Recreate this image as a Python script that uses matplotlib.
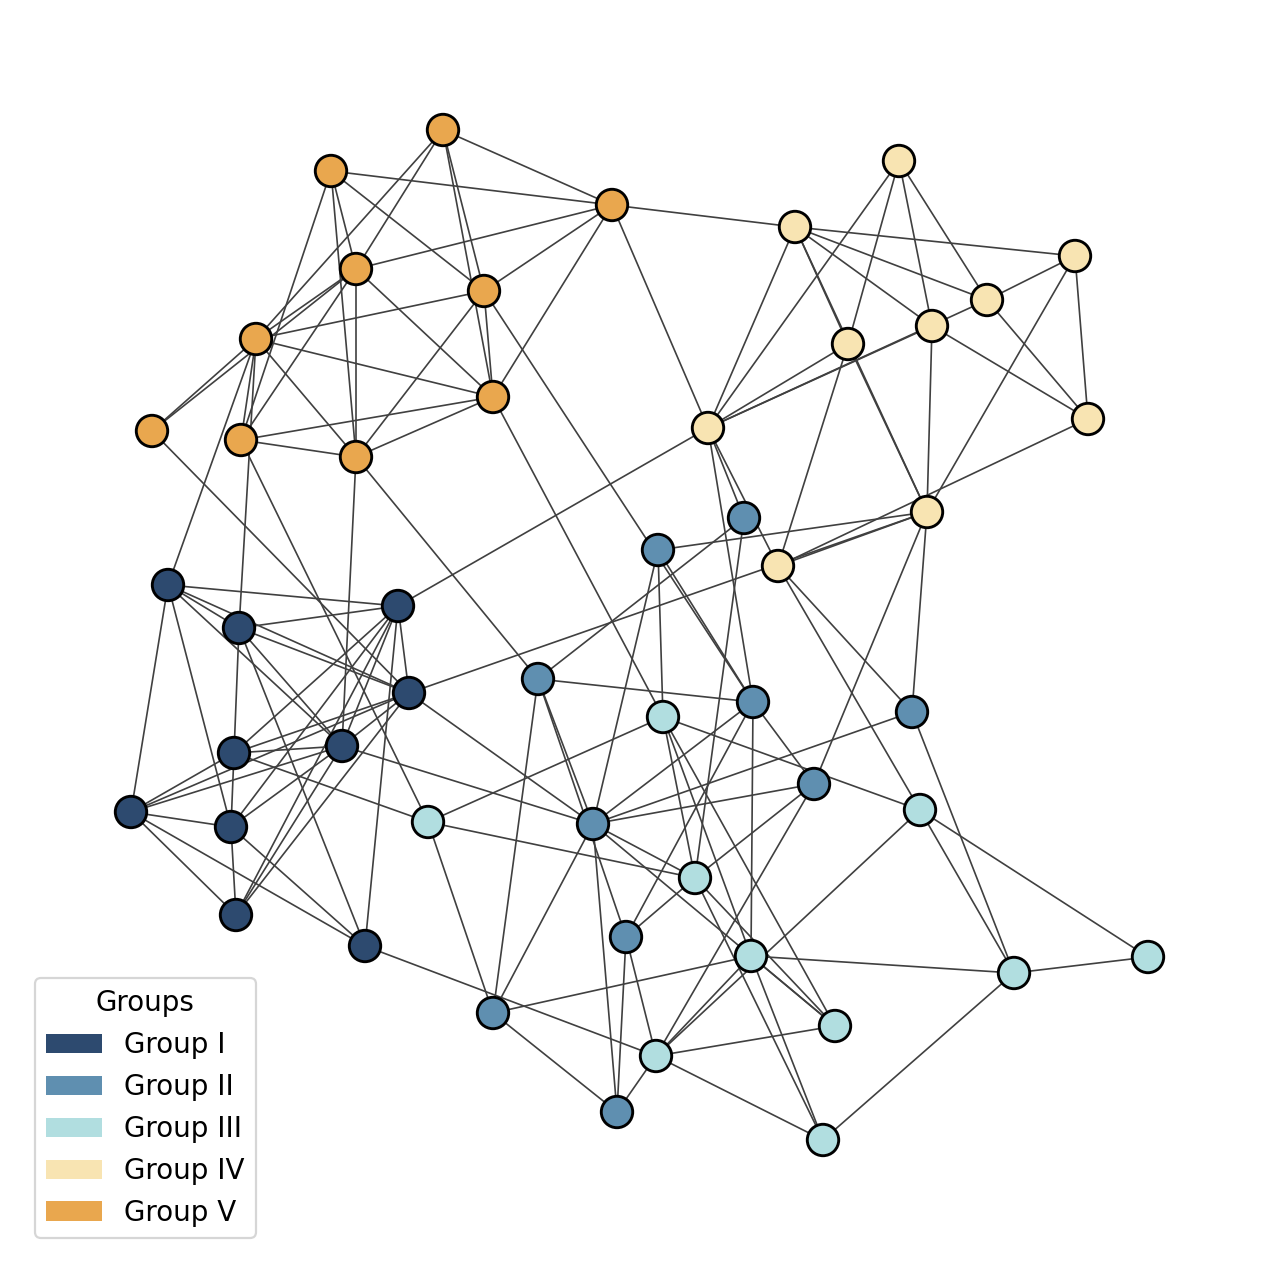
import matplotlib
matplotlib.use('Agg')
import matplotlib.pyplot as plt
from matplotlib.patches import Patch

# node layout (canvas units, y grows downward) and group of each node
node_names = ['V1', 'V2', 'V3', 'V4', 'V5', 'V6', 'V7', 'V8', 'V9', 'V10',
              'IV1', 'IV2', 'IV3', 'IV4', 'IV5', 'IV6', 'IV7', 'IV8', 'IV9', 'IV10',
              'II1', 'II2', 'II3', 'II4', 'II5', 'II6', 'II7', 'II8', 'II9', 'II10',
              'III1', 'III2', 'III3', 'III4', 'III5', 'III6', 'III7', 'III8', 'III9', 'III10',
              'I1', 'I2', 'I3', 'I4', 'I5', 'I6', 'I7', 'I8', 'I9', 'I10']
node_x = [443, 331, 612, 356, 484, 256, 152, 241, 356, 493,
          899, 795, 1075, 987, 932, 848, 1088, 708, 927, 778,
          744, 658, 538, 753, 912, 814, 593, 626, 493, 617,
          663, 920, 428, 695, 751, 1014, 1148, 835, 656, 823,
          168, 398, 239, 409, 342, 234, 131, 231, 236, 365]
node_y = [130, 171, 205, 269, 291, 339, 431, 440, 457, 397,
          161, 227, 256, 300, 326, 344, 419, 428, 512, 566,
          518, 550, 679, 702, 712, 784, 824, 937, 1013, 1112,
          717, 810, 822, 878, 956, 973, 957, 1026, 1056, 1140,
          585, 606, 628, 693, 746, 753, 812, 827, 915, 946]
node_group = ['Group V'] * 10 + ['Group IV'] * 10 + ['Group II'] * 10 + \
             ['Group III'] * 10 + ['Group I'] * 10

edges = [
    ('V1', 'V3'), ('V1', 'V4'), ('V1', 'V5'), ('V1', 'V6'), ('V1', 'V10'),
    ('V2', 'V3'), ('V2', 'V4'), ('V2', 'V5'), ('V2', 'V8'), ('V2', 'V9'),
    ('V3', 'V4'), ('V3', 'V5'), ('V3', 'V10'), ('V3', 'IV2'), ('V3', 'IV8'),
    ('V4', 'V6'), ('V4', 'V7'), ('V4', 'V8'), ('V4', 'V9'), ('V4', 'V10'),
    ('V5', 'V6'), ('V5', 'V9'), ('V5', 'V10'), ('V5', 'II4'),
    ('V6', 'V7'), ('V6', 'V8'), ('V6', 'V9'), ('V6', 'V10'), ('V6', 'I1'), ('V6', 'I3'),
    ('V7', 'I4'),
    ('V8', 'V9'), ('V8', 'V10'), ('V8', 'III3'),
    ('V9', 'V10'), ('V9', 'I5'), ('V9', 'II3'),
    ('V10', 'III1'),
    ('IV1', 'IV8'), ('IV1', 'IV6'), ('IV1', 'IV5'), ('IV1', 'IV4'),
    ('IV2', 'IV3'), ('IV2', 'IV4'), ('IV2', 'IV5'), ('IV2', 'IV6'), ('IV2', 'IV9'), ('IV2', 'IV8'),
    ('IV3', 'IV4'), ('IV3', 'IV7'), ('IV3', 'IV9'),
    ('IV4', 'IV7'), ('IV4', 'IV8'),
    ('IV5', 'IV7'), ('IV5', 'IV9'), ('IV5', 'IV8'),
    ('IV6', 'IV9'), ('IV6', 'IV10'), ('IV6', 'IV8'),
    ('IV7', 'IV10'),
    ('IV9', 'IV10'), ('IV9', 'I4'), ('IV9', 'II6'), ('IV9', 'II5'), ('IV9', 'II2'),
    ('IV8', 'I2'), ('IV8', 'II4'), ('IV8', 'II1'), ('IV8', 'IV10'),
    ('IV10', 'III2'), ('IV10', 'II5'),
    ('II1', 'II3'), ('II1', 'III4'),
    ('II2', 'II4'), ('II2', 'III1'), ('II2', 'II7'),
    ('II3', 'II4'), ('II3', 'II9'), ('II3', 'II7'), ('II3', 'II8'),
    ('II4', 'II7'), ('II4', 'II8'), ('II4', 'III5'), ('II4', 'II6'),
    ('II5', 'II7'), ('II5', 'III6'),
    ('II6', 'II7'), ('II6', 'III4'), ('II6', 'III9'),
    ('II7', 'II10'), ('II7', 'III4'), ('II7', 'III8'), ('II7', 'II9'), ('II7', 'I4'), ('II7', 'I5'),
    ('II8', 'III4'), ('II8', 'III9'), ('II8', 'II10'),
    ('II9', 'III3'), ('II9', 'III5'), ('II9', 'II10'),
    ('II10', 'III9'),
    ('III1', 'III3'), ('III1', 'III2'), ('III1', 'III4'), ('III1', 'III5'), ('III1', 'III8'),
    ('III2', 'III7'), ('III2', 'III6'), ('III2', 'III9'),
    ('III3', 'III4'), ('III3', 'I6'),
    ('III4', 'III8'), ('III4', 'III10'),
    ('III5', 'III6'), ('III5', 'III8'), ('III5', 'III9'), ('III5', 'III10'),
    ('III6', 'III7'), ('III6', 'III10'),
    ('III8', 'III9'), ('III9', 'III10'), ('III9', 'I10'),
    ('I1', 'I2'), ('I1', 'I3'), ('I1', 'I4'), ('I1', 'I5'), ('I1', 'I7'), ('I1', 'I8'),
    ('I2', 'I3'), ('I2', 'I4'), ('I2', 'I5'), ('I2', 'I6'), ('I2', 'I8'), ('I2', 'I9'), ('I2', 'I10'),
    ('I3', 'I4'), ('I3', 'I6'), ('I3', 'I5'), ('I3', 'I10'),
    ('I4', 'I5'), ('I4', 'I6'), ('I4', 'I7'), ('I4', 'I9'),
    ('I5', 'I6'), ('I5', 'I7'), ('I5', 'I9'), ('I5', 'I8'),
    ('I6', 'I8'), ('I6', 'I7'),
    ('I7', 'I8'), ('I7', 'I9'), ('I7', 'I10'),
    ('I8', 'I9'), ('I8', 'I10'),
]

group_names = ['Group I', 'Group II', 'Group III', 'Group IV', 'Group V']
group_colors = {'Group I': '#2d4a6f', 'Group II': '#5f8fb0', 'Group III': '#b1dee0',
                'Group IV': '#f8e4b2', 'Group V': '#e9a74e'}

idx = {n: i for i, n in enumerate(node_names)}

fig = plt.figure(figsize=(8, 7.95), dpi=160)
ax = fig.add_axes([0, 0, 1, 1])

for a, b in edges:
    ia, ib = idx[a], idx[b]
    ax.plot([node_x[ia], node_x[ib]], [node_y[ia], node_y[ib]],
            color='#404040', lw=0.75, zorder=1)

ax.scatter(node_x, node_y, s=200, c=[group_colors[g] for g in node_group],
           edgecolors='black', linewidths=1.3, zorder=2)

ax.set_xlim(0, 1280)
ax.set_ylim(1272, 0)
ax.axis('off')

handles = [Patch(facecolor=group_colors[g], label=g) for g in group_names]
ax.legend(handles=handles, title='Groups', loc='lower left',
          bbox_to_anchor=(35 / 1280, 34 / 1272), borderaxespad=0,
          fontsize=12.5, title_fontsize=12.5, handlelength=2.0,
          labelspacing=0.5)

fig.savefig('out.png', dpi=160)
plt.close(fig)
